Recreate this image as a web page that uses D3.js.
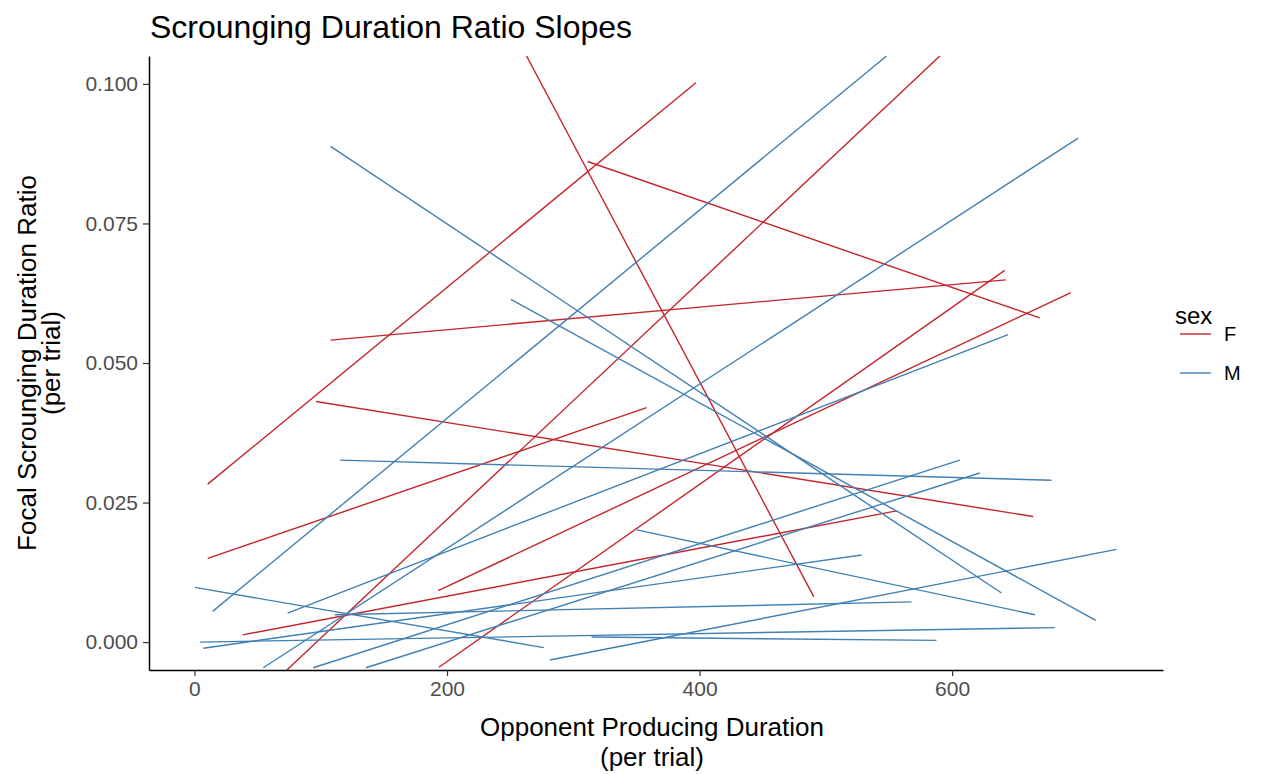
<!DOCTYPE html>
<html>
<head>
<meta charset="utf-8">
<script src="https://cdn.jsdelivr.net/npm/d3@7"></script>
<style>
  html, body { margin: 0; padding: 0; background: #fff; }
  svg { display: block; font-family: "Liberation Sans", Arial, sans-serif; }
</style>
</head>
<body>
<div class="container"></div>
<script>
// DATA: each slope is [x start, y start, x end, y end]
const sexes = ["F", "M"];

const femaleSlopes = [
  [263.0, 0.105, 490.5, 0.0081],
  [10.5, 0.0283, 397.1, 0.1002],
  [311.3, 0.0861, 669.4, 0.0581],
  [107.8, 0.0541, 642.5, 0.0649],
  [73.2, -0.005, 590.3, 0.105],
  [193.6, -0.0045, 641.7, 0.0666],
  [193.0, 0.0092, 694.0, 0.0626],
  [10.5, 0.0150, 358.0, 0.0420],
  [96.2, 0.0431, 664.1, 0.0225],
  [38.2, 0.0013, 556.0, 0.0235]
];

const maleSlopes = [
  [107.8, 0.0888, 639.1, 0.0088],
  [250.6, 0.0614, 713.8, 0.0039],
  [14.4, 0.0055, 548.1, 0.105],
  [54.5, -0.0046, 699.8, 0.0903],
  [73.8, 0.0052, 644.3, 0.0551],
  [115.2, 0.0326, 678.7, 0.0290],
  [0.4, 0.0098, 276.7, -0.0010],
  [4.4, 0.0000, 681.3, 0.0026],
  [281.5, -0.0032, 730.2, 0.0166],
  [350.1, 0.0201, 665.5, 0.0049],
  [94.1, -0.0046, 606.1, 0.0326],
  [135.8, -0.0046, 621.9, 0.0303],
  [7.0, -0.0011, 528.3, 0.0156],
  [314.5, 0.0009, 587.6, 0.0003],
  [111.2, 0.0049, 567.9, 0.0072]
];

const xTicks = [0, 200, 400, 600];
const yTicks = [0.000, 0.025, 0.050, 0.075, 0.100];

// SETUP
const colorOf = { F: "#c3262c", M: "#4280b3" };

const W = 1285, H = 774;
const panel = { left: 149, right: 1163, top: 56, bottom: 670 };

const svg = d3.select("div.container")
  .append("svg")
  .attr("width", W)
  .attr("height", H);

const x = d3.scaleLinear().domain([-36, 767]).range([panel.left, panel.right]);
const y = d3.scaleLinear().domain([-0.005, 0.105]).range([panel.bottom, panel.top]);

// clip the lines to the panel, like coord_cartesian does
svg.append("clipPath")
  .attr("id", "panel-clip")
  .append("rect")
  .attr("x", panel.left)
  .attr("y", panel.top)
  .attr("width", panel.right - panel.left)
  .attr("height", panel.bottom - panel.top);

const line = d3.line().x(d => x(d[0])).y(d => y(d[1]));

const slopes = [
  ...femaleSlopes.map(s => ({ sex: "F", s })),
  ...maleSlopes.map(s => ({ sex: "M", s }))
];

svg.append("g")
  .attr("clip-path", "url(#panel-clip)")
  .selectAll("path")
  .data(slopes)
  .enter()
  .append("path")
  .attr("d", d => line([[d.s[0], d.s[1]], [d.s[2], d.s[3]]]))
  .attr("fill", "none")
  .attr("stroke", d => colorOf[d.sex])
  .attr("stroke-width", 1.4);

// AXES
const xAxis = svg.append("g")
  .attr("transform", `translate(0, ${panel.bottom})`)
  .call(d3.axisBottom(x).tickValues(xTicks).tickSize(6).tickPadding(5).tickSizeOuter(0));

const yAxis = svg.append("g")
  .attr("transform", `translate(${panel.left}, 0)`)
  .call(d3.axisLeft(y).tickValues(yTicks).tickFormat(d3.format(".3f")).tickSize(6).tickPadding(5).tickSizeOuter(0));

[xAxis, yAxis].forEach(a => {
  a.select(".domain").attr("stroke", "#000").attr("stroke-width", 1.5);
  a.selectAll(".tick line").attr("stroke", "#333").attr("stroke-width", 1.2);
  a.selectAll(".tick text")
    .attr("fill", "#4d4d4d")
    .style("font-size", "21px")
    .style("font-family", "'Liberation Sans', Arial, sans-serif");
});

// TITLES
svg.append("text")
  .attr("x", 150)
  .attr("y", 38)
  .style("font-size", "32px")
  .attr("fill", "#000")
  .text("Scrounging Duration Ratio Slopes");

const xMid = (panel.left + panel.right) / 2;
svg.append("text")
  .attr("text-anchor", "middle")
  .attr("x", xMid - 4)
  .attr("y", 736)
  .style("font-size", "26px")
  .text("Opponent Producing Duration");
svg.append("text")
  .attr("text-anchor", "middle")
  .attr("x", xMid - 4)
  .attr("y", 766)
  .style("font-size", "26px")
  .text("(per trial)");

const yMid = (panel.top + panel.bottom) / 2;
svg.append("text")
  .attr("text-anchor", "middle")
  .attr("transform", `translate(36, ${yMid}) rotate(-90)`)
  .style("font-size", "26px")
  .text("Focal Scrounging Duration Ratio");
svg.append("text")
  .attr("text-anchor", "middle")
  .attr("transform", `translate(60, ${yMid}) rotate(-90)`)
  .style("font-size", "26px")
  .text("(per trial)");

// LEGEND
const legend = svg.append("g").attr("transform", "translate(1175, 0)");

legend.append("text")
  .attr("x", 0)
  .attr("y", 324)
  .style("font-size", "24px")
  .text("sex");

const key = legend.selectAll("g.key")
  .data(sexes)
  .enter()
  .append("g")
  .attr("class", "key")
  .attr("transform", (d, i) => `translate(0, ${334 + i * 39})`);

key.append("line")
  .attr("x1", 5)
  .attr("x2", 36)
  .attr("stroke", d => colorOf[d])
  .attr("stroke-width", 1.4);

key.append("text")
  .attr("x", 49)
  .attr("y", 7)
  .style("font-size", "20px")
  .text(d => d);
</script>
</body>
</html>
